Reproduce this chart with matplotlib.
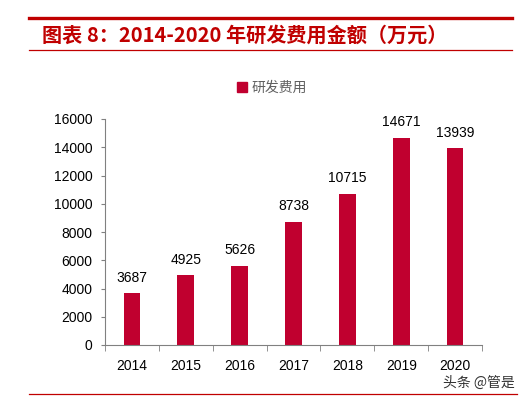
import matplotlib
matplotlib.use("Agg")
import matplotlib.pyplot as plt
from matplotlib.lines import Line2D
from matplotlib.patches import Patch

plt.rcParams['font.family'] = ['Liberation Sans', 'Noto Sans CJK SC', 'DejaVu Sans']

years = ["2014", "2015", "2016", "2017", "2018", "2019", "2020"]
values = [3687, 4925, 5626, 8738, 10715, 14671, 13939]
yticks = [0, 2000, 4000, 6000, 8000, 10000, 12000, 14000, 16000]
title = "图表 8：2014-2020 年研发费用金额（万元）"
series_name = "研发费用"
watermark = "头条 @管是"

bar_color = "#C0002F"
red = "#C00000"

W, H = 528, 401
fig = plt.figure(figsize=(W / 100, H / 100), dpi=100)

def fx(x):
    return x / W

def fy(y):
    return 1 - y / H

# decorative lines
fig.add_artist(Line2D([fx(29), fx(512)], [fy(18), fy(18)], color=red, lw=2.4))
fig.add_artist(Line2D([fx(29), fx(512)], [fy(50), fy(50)], color=red, lw=0.9))
fig.add_artist(Line2D([fx(29), fx(517)], [fy(394), fy(394)], color=red, lw=0.9))

fig.text(fx(42), fy(35), title, color=red, fontsize=14.5, fontweight='bold',
         fontstyle='italic',
         family=['Noto Sans CJK SC', 'DejaVu Sans'], va='center', ha='left')

ax = fig.add_axes([fx(105), fy(345), fx(482) - fx(105), fy(119) - fy(345)])
x = list(range(len(years)))
bars = ax.bar(x, values, width=0.31, color=bar_color, label=series_name)
ax.set_xlim(-0.5, len(years) - 0.5)
ax.set_ylim(0, 16000)
ax.set_yticks(yticks)
ax.set_yticklabels([str(t) for t in yticks])
ax.set_xticks(x)
ax.set_xticklabels(years)
ax.set_xticks([i - 0.5 for i in range(len(years) + 1)], minor=True)

for s in ['top', 'right']:
    ax.spines[s].set_visible(False)
for s in ['left', 'bottom']:
    ax.spines[s].set_color('#808080')
    ax.spines[s].set_linewidth(0.8)

ax.tick_params(axis='y', length=3, color='#808080', labelsize=10, pad=6, labelcolor='#000000', direction='out')
ax.tick_params(axis='x', which='major', length=0, labelsize=10, pad=10, labelcolor='#000000')
ax.tick_params(axis='x', which='minor', length=4, color='#808080', direction='out')

for xi, v in zip(x, values):
    ax.annotate(str(v), (xi, v), xytext=(0, 6), textcoords='offset points',
                ha='center', va='bottom', fontsize=10, color='#000000')

leg = fig.legend(handles=[Patch(color=bar_color, label=series_name)],
                 loc='center', bbox_to_anchor=(fx(272), fy(88)), frameon=False,
                 prop={'family': ['Noto Sans CJK SC', 'DejaVu Sans'], 'size': 10},
                 handlelength=0.7, handleheight=0.7, handletextpad=0.3)
for t in leg.get_texts():
    t.set_color('#606060')

fig.text(fx(515), fy(383), watermark, color='#333333', fontsize=10,
         family=['Noto Sans CJK SC', 'DejaVu Sans'], ha='right', va='center')

fig.savefig("out.png", dpi=100)
